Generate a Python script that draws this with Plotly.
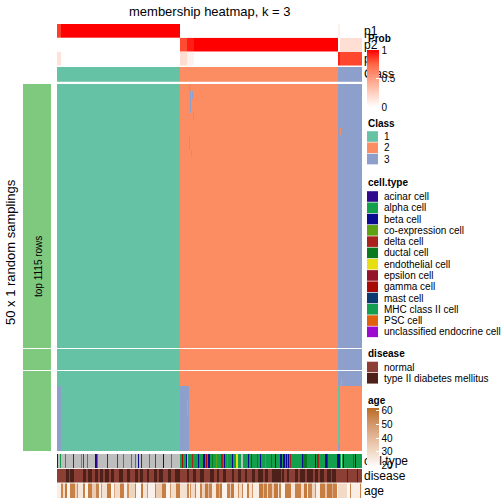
import numpy as np
import plotly.graph_objects as go

W = H = 504
FONT = "Liberation Sans, Arial, Helvetica, sans-serif"

# ---------------- data ----------------
# class of each column (run-length: class, count)
class_runs = [(1, 123), (2, 158), (3, 24)]
# membership probabilities (run-length: count, p1, p2, p3)
prob_runs = [(4, 0.85, 0.0, 0.15), (119, 1.0, 0.0, 0.0), (7, 0.0, 0.82, 0.18),
             (7, 0.0, 0.93, 0.07), (144, 0.0, 1.0, 0.0), (2, 0.08, 0.0, 0.92),
             (22, 0.0, 0.17, 0.83)]
# row slices of the 50 random samplings
block_sizes = [36, 3, 11]
# deviating assignments: (row_from, row_to, col_from, col_to, class)
deviations = [(0, 0, 132, 132, 3), (1, 3, 133, 133, 3), (1, 1, 135, 135, 3),
              (4, 4, 136, 136, 3), (7, 8, 132, 132, 3), (9, 9, 134, 134, 3),
              (6, 6, 283, 283, 2), (40, 40, 284, 284, 2),
              (41, 49, 0, 3, 3), (41, 49, 123, 131, 3), (41, 49, 281, 282, 1),
              (41, 49, 283, 304, 2), (43, 44, 130, 130, 2), (49, 49, 281, 282, 3)]

class_names = ["1", "2", "3"]
class_colors = ["#66C2A5", "#FC8D62", "#8DA0CB"]

cell_types = ["acinar cell", "alpha cell", "beta cell", "co-expression cell", "delta cell",
              "ductal cell", "endothelial cell", "epsilon cell", "gamma cell", "mast cell",
              "MHC class II cell", "PSC cell", "unclassified endocrine cell"]
cell_codes = "ALBCDUEPGMHSXN"   # last code N = missing
cell_colors = ["#2F0A8C", "#12A04C", "#0B0B90", "#5DA310", "#A8231C", "#0A7A1E", "#E8DF12",
               "#931328", "#A80A05", "#0B3A6E", "#12A050", "#E0600E", "#9A0ACF", "#BEBEBE"]
cell_type_cols = [
    "ANNLNNNNLN", "NNNNNNGNNN", "NNNNSNXNNN", "LNNNNNNNBA", "LNNNNNNNNN", "GNNNNNNNNN",
    "DNNNNNLNNN", "NNNNLNNNLN", "NBNNGNNNNN", "NNLNNNNNXN", "NNNNNNBNNN", "NNNNLNNNNN", "NNN",
    "LLGLLLBNLL", "LLDLLLLLBL", "LLLBBLGLBB", "LLULLLCLLL", "LDDLBLLSLL", "LLBLLLEELL",
    "LNNLLLLLBL", "LGLLLLLULL", "BLLLLCLLLL", "LDLLLBLLLL", "BBLBBLBLBL", "DLLLLLLLLL",
    "LLBUUUULLL", "LLLLLBLDDL", "LLLLLBBGLL", "LLLLLLLBBB", "LNLBLLLLLL", "LLLDLBLLLL", "LL"]

disease_names = ["normal", "type II diabetes mellitus"]
disease_colors = ["#8B3F35", "#4D2119"]
# run-length: (0 normal / 1 type II, count)
disease_runs = [
    (0, 9), (1, 3), (0, 1), (1, 4), (0, 9), (1, 3), (0, 2), (1, 4), (0, 3), (1, 3), (0, 2),
    (1, 3), (0, 2), (1, 4), (0, 2), (1, 3), (0, 5), (1, 4), (0, 4), (1, 3), (0, 5), (1, 3),
    (0, 2), (1, 3), (0, 4), (1, 2), (0, 5), (1, 3), (0, 2), (1, 4), (0, 5), (1, 3), (0, 4),
    (1, 5),
    (0, 7), (1, 2), (0, 4), (1, 3), (0, 4), (1, 4), (0, 6), (1, 4), (0, 3), (1, 2), (0, 4),
    (1, 3), (0, 6), (1, 2), (0, 4), (1, 3), (0, 4), (1, 2), (0, 5), (1, 3), (0, 3), (1, 5),
    (0, 2), (1, 3), (0, 4), (1, 9), (0, 1), (1, 2), (0, 3), (1, 2), (0, 6), (1, 3), (0, 2),
    (1, 5), (0, 2), (1, 6), (0, 2), (1, 3), (0, 2), (1, 4), (0, 3), (1, 4), (0, 1), (1, 4),
    (0, 11), (1, 1), (0, 9), (1, 1), (0, 4)]
# run-length: (age, count)
age_runs = [
    (24, 4), (55, 2), (30, 2), (58, 2), (22, 3), (56, 5), (33, 2), (52, 1), (26, 5), (56, 2),
    (21, 3), (57, 4), (35, 4), (55, 3), (23, 2), (50, 1), (28, 5), (58, 4), (22, 3), (45, 1),
    (30, 5), (57, 4), (24, 3), (52, 2), (32, 6), (55, 1), (21, 5), (58, 2), (27, 4), (50, 1),
    (23, 7), (55, 1), (34, 6), (57, 4), (22, 4), (50, 1), (29, 5), (57, 4),
    (28, 7), (55, 2), (25, 1), (52, 1), (30, 4), (57, 1), (24, 4), (56, 2), (33, 3), (58, 3),
    (40, 1), (55, 3), (26, 4), (57, 3), (45, 1), (58, 2), (22, 5), (56, 3), (35, 1), (58, 3),
    (25, 4), (52, 1), (30, 3), (55, 1), (23, 4), (57, 2), (28, 3), (50, 1), (24, 6), (58, 4),
    (42, 1), (57, 3), (30, 1), (56, 4), (35, 2), (58, 4), (27, 1), (55, 2), (22, 4), (57, 6),
    (26, 4), (56, 6), (30, 3), (58, 3), (25, 1), (55, 4), (32, 3), (52, 1), (24, 4), (57, 5),
    (38, 2), (58, 5), (45, 1), (56, 4), (22, 1), (30, 9), (21, 3), (55, 1), (24, 9), (56, 1),
    (22, 1)]

# annotation names shown to the right of the heatmap
top_names = ["p1", "p2", "p3", "Class"]
bottom_names = ["cell.type", "disease", "age"]

# ---------------- expand ----------------
def expand(runs):
    out = []
    for v, n in runs:
        out += [v] * n
    return out

col_class = np.array(expand(class_runs))
N = len(col_class)
p1, p2, p3 = [], [], []
for n, a, b, c in prob_runs:
    p1 += [a] * n; p2 += [b] * n; p3 += [c] * n
ct_idx = [cell_codes.index(ch) for ch in "".join(cell_type_cols)]
dis = expand(disease_runs)
age = expand(age_runs)

n_rows = sum(block_sizes)
M = np.tile(col_class, (n_rows, 1))
for r0, r1, c0, c1, v in deviations:
    M[r0:r1 + 1, c0:c1 + 1] = v

# ---------------- helpers ----------------
def ydom(top, bot):
    return [1 - bot / H, 1 - top / H]

def step_scale(colors):
    k = len(colors)
    cs = []
    for i, c in enumerate(colors):
        cs.append([i / k, c]); cs.append([(i + 1) / k, c])
    return cs

prob_scale = [[0, "#FFFFFF"], [0.25, "#FFCFBF"], [0.5, "#FF9E82"], [0.75, "#FF6846"], [1, "#FF0000"]]
age_scale = [[0, "#FFFFFF"], [0.25, "#F3DDCB"], [0.5, "#E4B999"], [0.75, "#D19466"], [1, "#BC6B25"]]

fig = go.Figure()
xs = list(range(N))
axn = [0]

def add_band(z, top, bot, **kw):
    axn[0] += 1
    name = "y" if axn[0] == 1 else f"y{axn[0]}"
    key = "yaxis" if axn[0] == 1 else f"yaxis{axn[0]}"
    nr = len(z)
    fig.add_trace(go.Heatmap(z=z, x=xs, y=list(range(nr)), xaxis="x", yaxis=name,
                             hoverinfo="skip", **kw))
    fig.layout[key] = dict(domain=ydom(top, bot), range=[nr - 0.5, -0.5], visible=False,
                           fixedrange=True, anchor="x")
    return name

add_band([p1], 24, 37.7, coloraxis="coloraxis")
add_band([p2], 37.7, 51.7, coloraxis="coloraxis")
add_band([p3], 51.7, 65.7, coloraxis="coloraxis")
add_band([list(col_class)], 67, 81.7, colorscale=step_scale(class_colors), zmin=0.5, zmax=3.5,
         showscale=False)

block_px = [(84, 348), (349, 370), (371, 451)]
r = 0
block_axes = []
for (t, b), nb in zip(block_px, block_sizes):
    yn = add_band(M[r:r + nb].tolist(), t, b, colorscale=step_scale(class_colors),
                  zmin=0.5, zmax=3.5, showscale=False)
    block_axes.append((yn, nb))
    r += nb

add_band([ct_idx], 454, 468.3, colorscale=step_scale(cell_colors), zmin=-0.5,
         zmax=len(cell_colors) - 0.5, showscale=False)
add_band([dis], 468.7, 482.8, colorscale=step_scale(disease_colors), zmin=-0.5, zmax=1.5,
         showscale=False)
add_band([age], 483.3, 498, coloraxis="coloraxis2")

# row annotation (green bar) on a second x axis
for yn, nb in block_axes:
    fig.add_trace(go.Heatmap(z=[[1] for _ in range(nb)], x=[0], y=list(range(nb)), xaxis="x2",
                             yaxis=yn, colorscale=[[0, "#7FC97F"], [1, "#7FC97F"]],
                             showscale=False, hoverinfo="skip"))

# annotation names as text marks in a full-page pixel frame (drawn beneath the legends)
axn[0] += 1
lab_y = f"y{axn[0]}"
fig.add_trace(go.Scatter(x=[364] * 7, y=[32, 46, 60, 75, 461.5, 476.5, 492],
                         text=top_names + bottom_names, mode="text", textposition="middle right",
                         textfont=dict(size=12, family=FONT, color="black"),
                         xaxis="x3", yaxis=lab_y, hoverinfo="skip", cliponaxis=False))
fig.layout[f"yaxis{axn[0]}"] = dict(domain=[0, 1], range=[H, 0], visible=False, fixedrange=True,
                                     anchor="x3")

fig.update_layout(
    width=W, height=H, margin=dict(l=0, r=0, t=0, b=0),
    paper_bgcolor="white", plot_bgcolor="rgba(0,0,0,0)", font=dict(family=FONT, color="black"),
    xaxis=dict(domain=[57 / W, 362 / W], range=[-0.5, N - 0.5], visible=False, fixedrange=True),
    xaxis2=dict(domain=[23 / W, 51 / W], range=[-0.5, 0.5], visible=False, fixedrange=True),
    xaxis3=dict(domain=[0, 1], range=[0, W], visible=False, fixedrange=True),
    coloraxis=dict(colorscale=prob_scale, cmin=0, cmax=1,
                   colorbar=dict(x=367 / W, xanchor="left", y=1 - 50 / H, yanchor="top",
                                 len=57, lenmode="pixels", thickness=12, thicknessmode="pixels",
                                 xpad=0, ypad=0, outlinewidth=0, tickvals=[0, 0.5, 1],
                                 ticktext=["0", "0.5", "1"], ticks="inside", ticklen=3,
                                 tickcolor="white", tickfont=dict(size=10, family=FONT))),
    coloraxis2=dict(colorscale=age_scale, cmin=18.3, cmax=62,
                    colorbar=dict(x=367 / W, xanchor="left", y=1 - 408 / H, yanchor="top",
                                  len=60, lenmode="pixels", thickness=12, thicknessmode="pixels",
                                  xpad=0, ypad=0, outlinewidth=0, tickvals=[20, 30, 40, 50, 60],
                                  ticks="inside", ticklen=3, tickcolor="white",
                                  tickfont=dict(size=10, family=FONT))),
    showlegend=False,
)

ann = []
shapes = []

def text(x, y, s, size=10, bold=False, angle=0, xanchor="left"):
    ann.append(dict(x=x / W, y=1 - y / H, xref="paper", yref="paper", text=f"<b>{s}</b>" if bold else s,
                    showarrow=False, xanchor=xanchor, yanchor="middle", textangle=angle,
                    font=dict(size=size, family=FONT, color="black")))

text(210, 11, "membership heatmap, k = 3", size=13, xanchor="center")
text(10, 252, "50 x 1 random samplings", size=13, angle=-90, xanchor="center")
text(38, 267, "top 1115 rows", size=10, angle=-90, xanchor="center")

# legend titles
text(366, 38.3, "Prob", bold=True)
text(366, 123, "Class", bold=True)
text(366, 182, "cell.type", bold=True)
text(366, 353.5, "disease", bold=True)
text(366, 400.5, "age", bold=True)

def swatches(names, colors, y0, step=11.28):
    for i, (nm, c) in enumerate(zip(names, colors)):
        yc = y0 + i * step
        shapes.append(dict(type="rect", xref="paper", yref="paper", x0=367 / W, x1=378 / W,
                           y0=1 - (yc + 5.3) / H, y1=1 - (yc - 5.3) / H,
                           fillcolor=c, line=dict(width=0)))
        text(382, yc, nm)

swatches(class_names, class_colors, 136.5)
swatches(cell_types, cell_colors[:len(cell_types)], 196.5)
swatches(disease_names, disease_colors, 367)

fig.update_layout(annotations=ann, shapes=shapes)
fig.write_html("out.html", config={"displayModeBar": False},
               post_script="document.body.style.margin='0px';")
